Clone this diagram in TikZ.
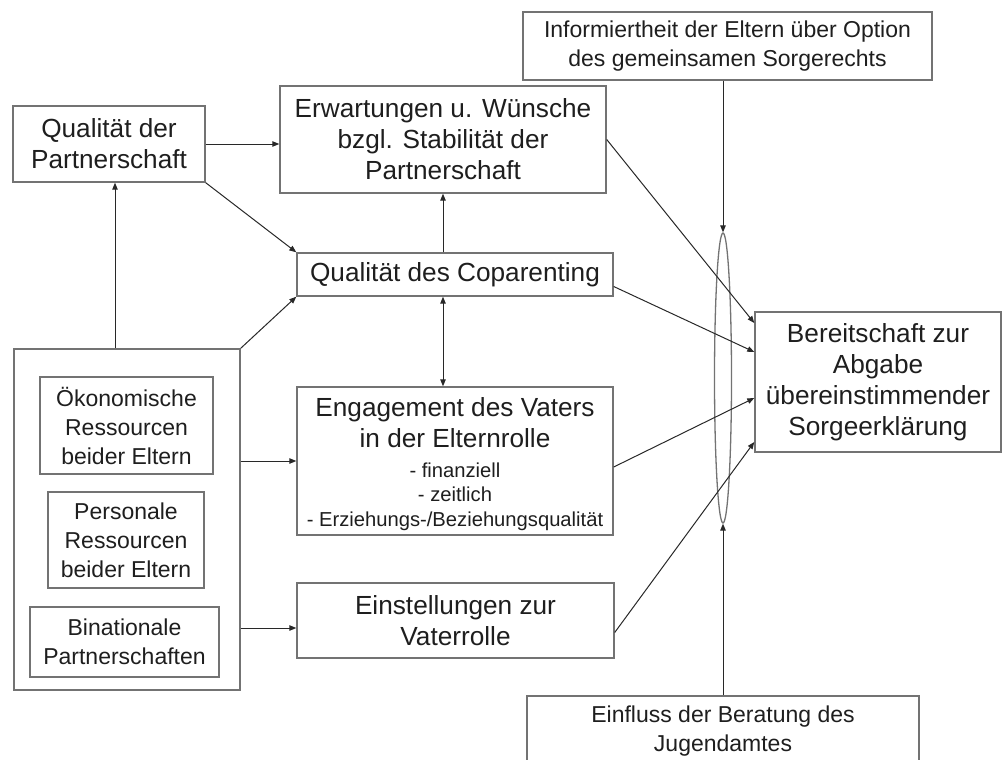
\documentclass[tikz,border=0pt]{standalone}
\usepackage{fontspec}
\setmainfont{Liberation Sans}
\usetikzlibrary{arrows.meta,shapes.geometric,calc}
\definecolor{boxc}{RGB}{115,115,115}
\definecolor{linec}{RGB}{40,40,40}
\definecolor{txtc}{RGB}{30,30,30}
\tikzset{
  box/.style={draw=boxc, line width=1.4pt, inner sep=0pt, align=center, text=txtc},
  fbig/.style={font=\fontsize{26.2}{31}\selectfont},
  fmid/.style={font=\fontsize{23}{29}\selectfont},
  fsub/.style={font=\fontsize{20.2}{24.5}\selectfont},
  arr/.style={draw=linec, line width=1pt, -{Triangle[length=7pt,width=5.5pt]}},
  darr/.style={draw=linec, line width=1pt, {Triangle[length=7pt,width=5.5pt]}-{Triangle[length=7pt,width=5.5pt]}},
  lens/.style={draw=boxc, line width=1.3pt, ellipse, inner sep=0pt}
}
\begin{document}
\begin{tikzpicture}[x=1pt,y=-1pt]
\useasboundingbox (0,0) rectangle (1004,760);
\clip (0,0) rectangle (1004,760);
% boxes
\node[box,fbig,minimum width=192,minimum height=76] (qp) at (109,144) {Qualität der\\Partnerschaft};
\node[box,fbig,minimum width=326,minimum height=107] (erw) at (443,139.5) {Erwartungen u. Wünsche\\bzgl. Stabilität der\\Partnerschaft};
\node[box,fbig,minimum width=316,minimum height=43] (cop) at (455,274.5) {Qualität des Coparenting};
\node[box,minimum width=316,minimum height=148] (eng) at (455,461) {};
\node[fbig,align=center,text=txtc,inner sep=0pt] (engT) at (455,423) {Engagement des Vaters\\in der Elternrolle};
\node[fsub,align=center,text=txtc,inner sep=0pt] (engS) at (455,496.5) {- finanziell\\- zeitlich\\- Erziehungs-/Beziehungsqualität};
\node[box,fbig,minimum width=317,minimum height=75] (einst) at (455.5,620.5) {Einstellungen zur\\Vaterrolle};
\node[box,minimum width=226,minimum height=341] (big) at (127,519.5) {};
\node[box,fmid,minimum width=173,minimum height=97] (oek) at (126.5,425.5) {Ökonomische\\Ressourcen\\beider Eltern};
\node[box,fmid,minimum width=156,minimum height=96] (pers) at (126,540) {Personale\\Ressourcen\\beider Eltern};
\node[box,fmid,minimum width=189,minimum height=70] (bin) at (124.5,642) {Binationale\\Partnerschaften};
\node[box,fmid,minimum width=409,minimum height=68] (info) at (727.5,46) {Informiertheit der Eltern über Option\\des gemeinsamen Sorgerechts};
\node[box,fmid,minimum width=392,minimum height=71] (einf) at (723,731.5) {Einfluss der Beratung des\\Jugendamtes};
\node[box,fbig,minimum width=246,minimum height=140] (ber) at (878,382) {Bereitschaft zur\\Abgabe\\übereinstimmender\\Sorgeerklärung};
\node[lens,minimum width=17,minimum height=290] (ell) at (723,378) {};
% helper coordinates
\coordinate (xq) at (115,0);
\coordinate (yE) at (0,628);
% connectors
\draw[arr] (qp.east) -- (erw.west |- qp.east);
\draw[arr] (qp.south east) -- (cop.north west);
\draw[arr] (big.north -| xq) -- (qp.south -| xq);
\draw[arr] (big.north east) -- (cop.south west);
\draw[arr] (cop.north -| erw.south) -- (erw.south);
\draw[darr] (cop.south -| erw.south) -- (eng.north -| erw.south);
\draw[arr] (big.east |- eng.west) -- (eng.west);
\draw[arr] (big.east |- yE) -- (einst.west |- yE);
\draw[arr] (erw.east) -- ($(ber.west)+(0,-59)$);
\draw[arr] ($(cop.east)+(0,12)$) -- ($(ber.west)+(0,-30)$);
\draw[arr] ($(eng.east)+(0,6)$) -- ($(ber.west)+(0,16)$);
\draw[arr] ($(einst.east)+(0,12)$) -- ($(ber.west)+(0,60)$);
\draw[arr] (info.south -| ell.north) -- (ell.north);
\draw[arr] (einf.north -| ell.south) -- (ell.south);
\end{tikzpicture}
\end{document}
